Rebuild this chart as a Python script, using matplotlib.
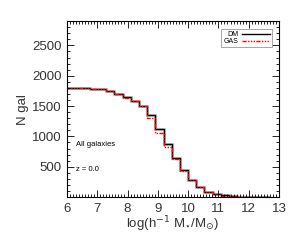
import numpy as np
import matplotlib
matplotlib.use("Agg")
import matplotlib.pyplot as plt
from matplotlib.ticker import MultipleLocator

# bin edges (log stellar mass) and counts
edges = [5.95, 6.22, 6.49, 6.76, 7.03, 7.30, 7.57, 7.84, 8.11, 8.38, 8.65,
         8.92, 9.19, 9.46, 9.73, 10.00, 10.27, 10.54, 10.81, 11.08, 11.35,
         11.62, 11.89, 12.16, 12.43, 12.70]
n_dm = [1800, 1800, 1795, 1785, 1775, 1750, 1705, 1650, 1590, 1505, 1345,
        1115, 880, 645, 445, 280, 165, 90, 50, 30, 15, 8, 5, 3, 2]
n_gas = [1800, 1800, 1795, 1788, 1775, 1745, 1700, 1640, 1580, 1495, 1300,
         1060, 830, 620, 430, 275, 160, 85, 45, 25, 12, 7, 4, 3, 2]

plt.rcParams['font.family'] = ['Liberation Sans', 'DejaVu Sans']

fig = plt.figure(figsize=(3.0, 2.4), dpi=100)
ax = fig.add_axes([0.223, 0.179, 0.707, 0.733])

# light grey halo under the lines
ax.stairs(n_dm, edges, color="#c8c8c8", lw=2.2, baseline=None)
ax.stairs(n_dm, edges, color="black", lw=1.0, baseline=None, label="DM")
ax.stairs(n_gas, edges, color="red", lw=1.0, baseline=None,
          linestyle=(0, (3, 1, 1, 1, 1, 1, 1, 1)), label="GAS")

ax.set_xlim(6, 13)
ax.set_ylim(0, 2900)
ax.set_yticks([500, 1000, 1500, 2000, 2500])
ax.xaxis.set_major_locator(MultipleLocator(1))
ax.xaxis.set_minor_locator(MultipleLocator(0.1))
ax.yaxis.set_minor_locator(MultipleLocator(100))
ax.tick_params(which="both", direction="in", top=True, right=True,
               labelsize=9.5, width=0.6, colors="black", labelcolor="#333333")
ax.tick_params(which="major", length=5, pad=4)
ax.tick_params(which="minor", length=2.5)
for s in ax.spines.values():
    s.set_linewidth(0.8)

ax.set_xlabel(r"log(h$^{-1}$ M$_{\star}$/M$_{\odot}$)", fontsize=9.5,
              color="#333333", labelpad=0)
ax.set_ylabel("N gal", fontsize=9.5, color="#333333", labelpad=2)

ax.text(6.3, 870, "All galaxies", fontsize=5.5, va="center")
ax.text(6.3, 450, "z = 0.0", fontsize=5.5, va="center")

leg = ax.legend(loc="upper right", fontsize=5, markerfirst=False,
                handlelength=4, handletextpad=0.6, labelspacing=0.0,
                borderpad=0.3, fancybox=False, framealpha=1,
                bbox_to_anchor=(0.985, 0.975))
leg.get_frame().set_edgecolor("#999999")
leg.get_frame().set_linewidth(0.6)

fig.savefig("out.png", dpi=100)
